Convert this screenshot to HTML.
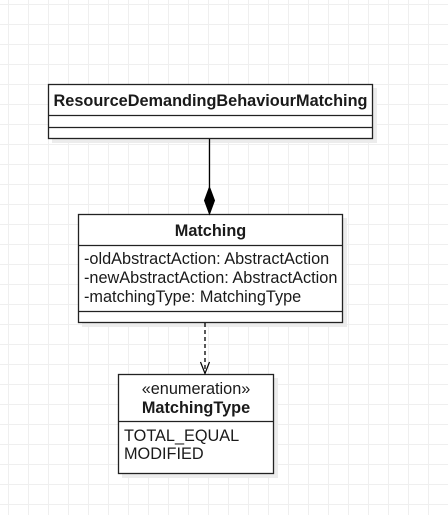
<!DOCTYPE html>
<html><head><meta charset="utf-8"><style>
body{margin:0;width:448px;height:515px;overflow:hidden;background:#fff;}
svg{display:block}
text{font-family:"Liberation Sans",Arial,sans-serif;fill:#1a1a1a;font-size:16.3px}
</style></head><body>
<svg width="448" height="515" viewBox="0 0 448 515" xmlns="http://www.w3.org/2000/svg">
<defs>
<pattern id="g" x="8" y="4" width="20" height="20" patternUnits="userSpaceOnUse">
<path d="M0.5 0V20M0 0.5H20" stroke="#efefef" stroke-width="1" fill="none"/>
</pattern>
</defs>
<rect width="448" height="515" fill="url(#g)"/>
<rect x="52" y="88" width="325" height="55" fill="#ececec"/>
<rect x="82" y="218" width="265" height="109" fill="#ececec"/>
<rect x="122" y="378" width="156" height="100" fill="#ececec"/>
<g stroke="#222" stroke-width="1.3" fill="#fff">
<rect x="48.5" y="84.5" width="324" height="54"/>
<line x1="48.5" y1="115.5" x2="372.5" y2="115.5"/>
<line x1="48.5" y1="127.5" x2="372.5" y2="127.5"/>
<rect x="78.5" y="214.5" width="264" height="108"/>
<line x1="78.5" y1="245.5" x2="342.5" y2="245.5"/>
<line x1="78.5" y1="311.5" x2="342.5" y2="311.5"/>
<rect x="118.5" y="374.5" width="155" height="99"/>
<line x1="118.5" y1="421.5" x2="273.5" y2="421.5"/>
</g>
<line x1="209.5" y1="139" x2="209.5" y2="187" stroke="#000" stroke-width="1.3"/>
<path d="M209.5 187 L214.5 200.5 L209.5 214 L204.5 200.5Z" fill="#000" stroke="#000"/>
<line x1="205" y1="323" x2="205" y2="373" stroke="#000" stroke-width="1.3" stroke-dasharray="4 3"/>
<path d="M200.5 362 L205 373.5 L209.5 362" fill="none" stroke="#000" stroke-width="1.2"/>
<text x="210.5" y="106" text-anchor="middle" font-weight="bold">ResourceDemandingBehaviourMatching</text>
<text x="210.5" y="236" text-anchor="middle" font-weight="bold">Matching</text>
<text x="84" y="264">-oldAbstractAction: AbstractAction</text>
<text x="84" y="283">-newAbstractAction: AbstractAction</text>
<text x="84" y="302">-matchingType: MatchingType</text>
<text x="196" y="394" text-anchor="middle">«enumeration»</text>
<text x="196" y="413" text-anchor="middle" font-weight="bold">MatchingType</text>
<text x="124" y="441">TOTAL_EQUAL</text>
<text x="124" y="459">MODIFIED</text>
</svg>
</body></html>
